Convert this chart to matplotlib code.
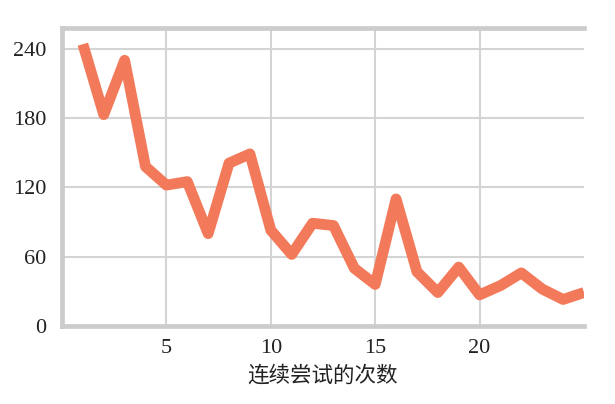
import numpy as np
import matplotlib.pyplot as plt

# nombre d'essais et valeurs
trials = list(range(1, 26))
values = [244, 183, 230, 138, 122, 125, 80, 141, 149, 83, 62,
          89, 87, 50, 36, 110, 47, 29, 51, 27, 35, 46, 32, 23, 29]
y_ticks = [0, 60, 120, 180, 240]
x_ticks = [5, 10, 15, 20]

plt.rcParams['font.family'] = ['Liberation Serif', 'Noto Sans CJK SC']

fig = plt.figure(figsize=(6.15, 4.04), dpi=100)
ax = fig.add_axes([0.1008, 0.193, 0.8488, 0.7377])

ax.plot(trials, values, color='#f27a5a', lw=7.8, solid_capstyle='butt')

ax.set_xlim(0, 25)
ax.set_ylim(0, 258)
ax.set_xticks(x_ticks)
ax.set_yticks(y_ticks)
ax.tick_params(axis='y', length=0, labelsize=16, pad=11, colors='#222222')
ax.tick_params(axis='x', length=0, labelsize=16, pad=9, colors='#222222')
ax.grid(True, color='#d4d4d4', lw=1.5)
ax.set_axisbelow(True)

for side in ['left', 'top', 'bottom']:
    ax.spines[side].set_color('#cccccc')
    ax.spines[side].set_linewidth(3.4)
ax.spines['right'].set_visible(False)

ax.set_xlabel('连续尝试的次数', fontsize=15.5, family=['Noto Sans CJK SC'],
              color='#222222', labelpad=5)

plt.savefig('out.png', dpi=100)
